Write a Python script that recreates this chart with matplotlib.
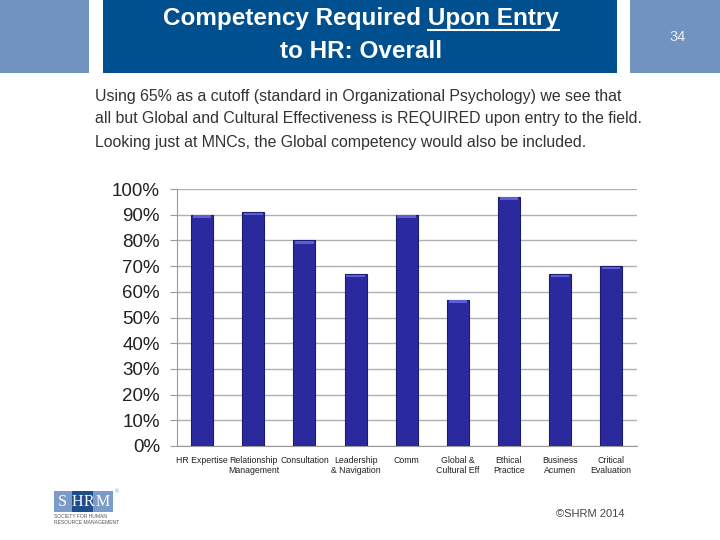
import matplotlib
matplotlib.use("Agg")
import matplotlib.pyplot as plt
from matplotlib.patches import Rectangle

plt.rcParams['font.family'] = ['Liberation Sans', 'DejaVu Sans']

categories = ["HR Expertise", "Relationship\nManagement", "Consultation",
              "Leadership\n& Navigation", "Comm", "Global &\nCultural Eff",
              "Ethical\nPractice", "Business\nAcumen", "Critical\nEvaluation"]
values = [90, 91, 80, 67, 90, 57, 97, 67, 70]
yticks = [0, 10, 20, 30, 40, 50, 60, 70, 80, 90, 100]
ytick_labels = [f"{v}%" for v in yticks]

title_line1 = "Competency Required Upon Entry"
title_underlined = "Upon Entry"
title_line2 = "to HR: Overall"
body_lines = [
    "Using 65% as a cutoff (standard in Organizational Psychology) we see that",
    "all but Global and Cultural Effectiveness is REQUIRED upon entry to the field.",
    "Looking just at MNCs, the Global competency would also be included.",
]
page_number = "34"
copyright_text = "\u00a9SHRM 2014"

W, H = 720, 540
fig = plt.figure(figsize=(7.2, 5.4), dpi=100)
fig.patch.set_facecolor("white")

def px_rect(x0, y0, x1, y1, color):
    fig.patches.append(Rectangle((x0 / W, 1 - y1 / H), (x1 - x0) / W, (y1 - y0) / H,
                                 transform=fig.transFigure, facecolor=color,
                                 edgecolor="none", zorder=0))

# banner
light_blue = "#7093c0"
dark_blue = "#00508f"
px_rect(0, 0, 89, 73, light_blue)
px_rect(103, 0, 617, 73, dark_blue)
px_rect(630, 0, 720, 73, light_blue)

TFS = 17.5
t1 = fig.text(361 / W, 1 - 19 / H, title_line1, color="white", fontsize=TFS,
              fontweight="bold", ha="center", va="center")
fig.text(361 / W, 1 - 51 / H, title_line2, color="white", fontsize=TFS,
         fontweight="bold", ha="center", va="center")
fig.text(678 / W, 1 - 37 / H, page_number, color="#e8eef8", fontsize=10.5,
         ha="center", va="center")

# body text
for i, line in enumerate(body_lines):
    fig.text(95 / W, 1 - (96 + 23 * i) / H, line, color="#333333", fontsize=11.4,
             ha="left", va="center")

# chart
ax = fig.add_axes([176.7 / W, 94 / H, 460 / W, 257 / H])
x = list(range(len(categories)))
ax.bar(x, values, width=0.43, color="#2a2a9e", edgecolor="#1b1b70", linewidth=0.8, zorder=3)
ax.bar(x, [1.0] * len(values), width=0.36, bottom=[v - 1.3 for v in values],
       color="#5e5ed6", edgecolor="none", zorder=4)
ax.set_xlim(-0.5, len(categories) - 0.5)
ax.set_ylim(0, 100)
ax.set_yticks(yticks)
ax.set_yticklabels(ytick_labels, fontsize=13.5, color="#222222")
ax.set_xticks(x)
ax.set_xticklabels(categories, fontsize=6.3, color="#222222", linespacing=1.2)
ax.tick_params(axis="x", length=0, pad=7)
ax.tick_params(axis="y", length=5, color="#999999", pad=7)
ax.grid(axis="y", color="#b0b0b0", linewidth=1, zorder=0)
ax.set_axisbelow(True)
for s in ["top", "right"]:
    ax.spines[s].set_visible(False)
ax.spines["left"].set_color("#999999")
ax.spines["bottom"].set_color("#999999")

# footer
fig.text(590 / W, 1 - 514 / H, copyright_text, color="#444444", fontsize=8,
         ha="center", va="center")

# logo
px_rect(54, 491, 113, 512, "#7b9cc8")
px_rect(72, 491, 93, 512, "#1f4e8c")
for ch, cx in zip("SHRM", [62.5, 77, 88.5, 103]):
    fig.text(cx / W, 1 - 502 / H, ch, color="white", fontsize=11.5,
             family=["Liberation Serif", "DejaVu Serif"], ha="center", va="center")
fig.text(115 / W, 1 - 492 / H, "\u00ae", color="#7b9cc8", fontsize=4, ha="left", va="center")
fig.text(54 / W, 1 - 516 / H, "SOCIETY FOR HUMAN", color="#555555", fontsize=3.6, ha="left", va="center")
fig.text(54 / W, 1 - 523 / H, "RESOURCE MANAGEMENT", color="#555555", fontsize=3.6, ha="left", va="center")

# underline "Upon Entry"
fig.canvas.draw()
renderer = fig.canvas.get_renderer()
bb = t1.get_window_extent(renderer)
tmp = fig.text(0, 0, title_underlined, fontsize=TFS, fontweight="bold")
wu = tmp.get_window_extent(renderer).width
tmp.remove()
uy = bb.y0 + 1
fig.lines.append(plt.Line2D([(bb.x1 - wu) / fig.bbox.width, bb.x1 / fig.bbox.width],
                            [uy / fig.bbox.height, uy / fig.bbox.height],
                            transform=fig.transFigure, color="white", linewidth=1.5))

fig.savefig("out.png", dpi=100)
